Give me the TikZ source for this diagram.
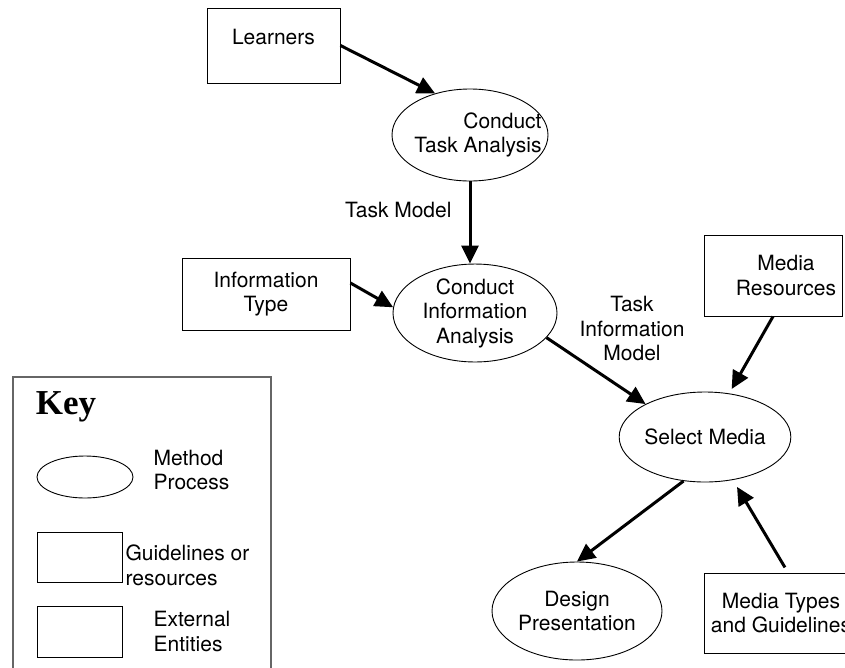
\documentclass[tikz,border=0pt]{standalone}
\usepackage{fontspec}
\setmainfont{TeX Gyre Heros}
\newfontfamily\keyfont{Liberation Serif}
\usetikzlibrary{positioning,shapes,arrows.meta,calc}

\begin{document}
\begin{tikzpicture}[
    x=1pt, y=-1pt,
    font=\fontsize{21}{24.5}\selectfont,
    process/.style={ellipse, draw=black, line width=0.9pt, inner sep=0pt},
    entity/.style={rectangle, draw=black, line width=0.9pt, inner sep=0pt, align=center},
    flow/.style={-{Triangle[length=18pt,width=17pt]}, line width=3pt},
    legend/.style={align=left, inner sep=0pt},
    keyframe/.style={rectangle, draw=black!60, line width=1.3pt, minimum width=258, minimum height=306}
]
    \clip (0,0) rectangle (845,667);

    % processes
    \node[process, minimum width=156, minimum height=92,
          label={[align=right, xshift=8pt]center:Conduct\\Task Analysis}] (taskanalysis) at (470,135) {};
    \node[process, minimum width=164, minimum height=90, align=center] (infoanalysis) at (475,313)
        {Conduct\\Information\\Analysis};
    \node[process, minimum width=166, minimum height=90] (selectmedia) at (705,437) {Select Media};
    \node[process, minimum width=170, minimum height=98, align=center] (designpres) at (577,611)
        {Design\\Presentation};

    % guidelines, resources and entities
    \node[entity, minimum width=133, minimum height=75,
          label={[yshift=8.5pt]center:Learners}] (learners) at (273.5,45.5) {};
    \node[entity, minimum width=168, minimum height=72] (infotype) at (266,294) {Information\\Type};
    \node[entity, minimum width=138, minimum height=81,
          label={[align=center, xshift=13pt]center:Media\\Resources}] (mediares) at (773,275.5) {};
    \node[entity, minimum width=154, minimum height=80] (mediatypes) at (781,613) {Media Types\\and Guidelines};

    \draw[flow] (learners.east) -- (taskanalysis.130);
    \draw[flow] (taskanalysis.south) -- node[pos=0.35, left=17pt, inner sep=0pt] {Task Model}
        (taskanalysis.south |- infoanalysis.north);
    \draw[flow] ([yshift=11pt]infotype.east) -- (infoanalysis.176);
    \draw[flow] (infoanalysis.-19) -- node[xshift=36pt, yshift=42pt, align=center] {Task\\Information\\Model}
        (selectmedia.151);
    \draw[flow, shorten >=5pt] (mediares.south) -- (selectmedia.61);
    \draw[flow] (selectmedia.-116) -- (designpres.north);
    \draw[flow, shorten >=8pt, shorten <=6pt] ([xshift=7pt]mediatypes.north) -- (selectmedia.-57);

    % key
    \node[keyframe] (keybox) at (142,530) {};
    \node[font=\keyfont\bfseries\fontsize{35}{40}\selectfont] (keytitle) at (66,407) {Key};
    \node[process, minimum width=96, minimum height=42] (keyprocess) at (85,477) {};
    \node[legend, right=20pt of keyprocess.east, yshift=7pt] (keyprocesstxt) {Method\\Process};
    \node[entity, minimum width=85, minimum height=50] (keyguide) at (79.5,557) {};
    \node[legend, right=3pt of keyguide.east, yshift=-8.5pt] (keyguidetxt) {Guidelines or\\resources};
    \node[entity, minimum width=85, minimum height=51] (keyentity) at (79.5,631.5) {};
    \node[legend, right=31pt of keyentity.east] (keyentitytxt) {External\\Entities};
\end{tikzpicture}
\end{document}
